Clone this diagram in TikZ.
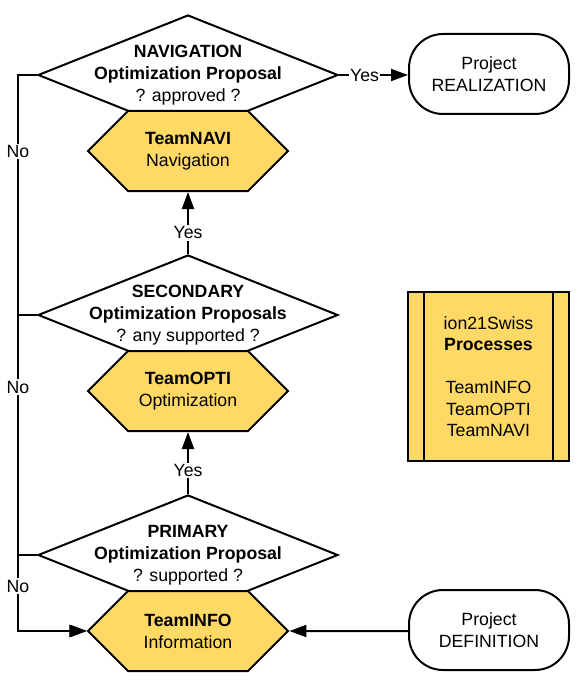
\documentclass[tikz,border=0pt]{standalone}
\usepackage{fontspec}
\setmainfont{Liberation Sans}
\usetikzlibrary{shapes.geometric,shapes.symbols,arrows.meta}
\definecolor{teamyellow}{HTML}{FFD966}
\tikzset{
  decision/.style={diamond, draw, line width=2pt, fill=white, minimum width=300pt, minimum height=120pt, inner sep=0pt},
  team/.style={signal, signal to=west and east, signal pointer angle=90, draw, line width=2pt, fill=teamyellow, minimum width=200pt, minimum height=80pt, inner sep=0pt, align=center},
  terminal/.style={rectangle, rounded corners=34pt, draw, line width=2pt, minimum width=160pt, minimum height=80pt, align=center},
  procbox/.style={rectangle, draw, line width=2pt, fill=teamyellow, minimum width=161pt, minimum height=169pt, align=center},
  flow/.style={-{Triangle[length=17pt,width=12pt]}, line width=2pt},
  answer/.style={fill=white, inner sep=1.5pt},
}
\begin{document}
\begin{tikzpicture}[x=1pt, y=-1pt, font=\fontsize{17.7}{22}\selectfont]
\useasboundingbox (0,0) rectangle (575,687);

% questions
\node[decision] (nav) at (188,75) {};
\node[decision] (sec) at (188,315) {};
\node[decision] (prim) at (188,555) {};
\node[align=center] (navtext) at (188,75.5) {\textbf{NAVIGATION}\\\textbf{Optimization Proposal}\\? approved ?};
\node[align=center] (sectext) at (188,315.5) {\textbf{SECONDARY}\\\textbf{Optimization Proposals}\\? any supported ?};
\node[align=center] (primtext) at (188,555.5) {\textbf{PRIMARY}\\\textbf{Optimization Proposal}\\? supported ?};

% teams
\node[team] (navi) at (188,151) {\textbf{TeamNAVI}\\Navigation};
\node[team] (opti) at (188,391) {\textbf{TeamOPTI}\\Optimization};
\node[team] (info) at (188,631) {\textbf{TeamINFO}\\Information};

% start and end
\node[terminal] (real) at (489,74) {Project\\REALIZATION};
\node[terminal] (def) at (489,630) {Project\\DEFINITION};

% legend
\node[procbox, font=\fontsize{17.7}{21.5}\selectfont] (procs) at (488.5,376.5) {ion21Swiss\\\textbf{Processes}\\~\\TeamINFO\\TeamOPTI\\TeamNAVI};
\draw[line width=2pt] ([xshift=17pt]procs.north west) -- ([xshift=17pt]procs.south west);
\draw[line width=2pt] ([xshift=-17pt]procs.north east) -- ([xshift=-17pt]procs.south east);

\coordinate (rail) at (18,631);

\draw[flow] (def.west |- info) -- (info);
\draw[flow] (prim) -- node[answer,pos=0.375]{Yes} (opti);
\draw[flow] (sec) -- node[answer,pos=0.34]{Yes} (navi);
\draw[flow] (nav) -- node[answer,pos=0.37]{Yes} (real.west |- nav);

\draw[flow] (nav.west) -| node[answer,pos=0.569]{No} (rail) -- (info.west);
\draw[flow] (sec.west) -| node[answer,pos=0.614]{No} (rail) -- (info.west);
\draw[flow] (prim.west) -| node[answer,pos=0.704]{No} (rail) -- (info.west);
\end{tikzpicture}
\end{document}
